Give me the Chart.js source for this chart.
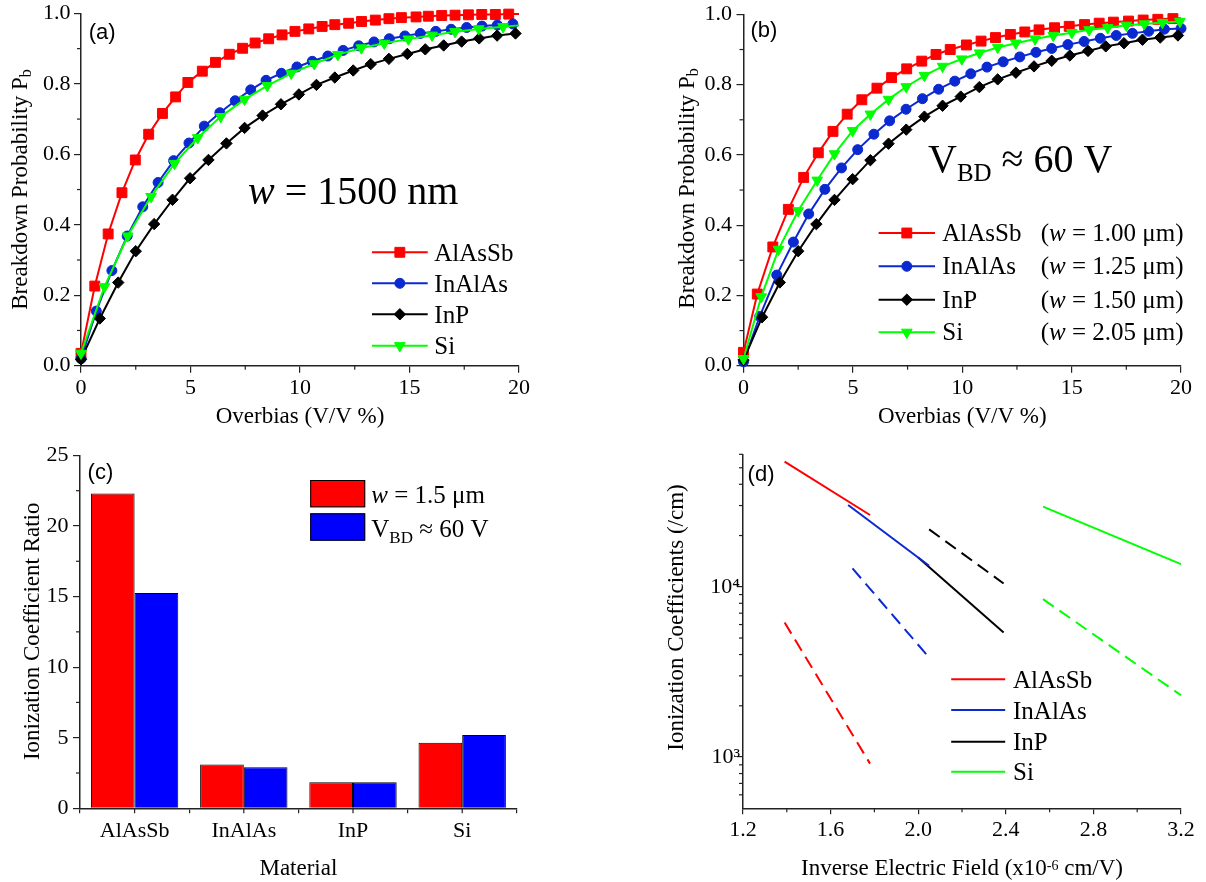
<!DOCTYPE html>
<html><head><meta charset="utf-8">
<script src="https://cdn.jsdelivr.net/npm/chart.js@4.4.1/dist/chart.umd.min.js"></script>
<style>
html,body{margin:0;padding:0;background:#fff;}
#wrap{position:relative;width:1206px;height:882px;overflow:hidden;background:#fff;}
.pane{position:absolute;width:603px;height:441px;}
canvas{display:block;}
</style></head><body>
<div id="wrap">
<div class="pane" style="left:0;top:0"><canvas id="ca" width="603" height="441"></canvas></div>
<div class="pane" style="left:603px;top:0"><canvas id="cb" width="603" height="441"></canvas></div>
<div class="pane" style="left:0;top:441px"><canvas id="cc" width="603" height="441"></canvas></div>
<div class="pane" style="left:603px;top:441px"><canvas id="cd" width="603" height="441"></canvas></div>
</div>
<script>
const SERIF = '"Liberation Serif","Times New Roman",Times,serif';
const SANS = '"Liberation Sans",Arial,Helvetica,sans-serif';

// ---------------- DATA ----------------
// Panel (a): w = 1500 nm
const aAlAsSbX = [0,0.63,1.24,1.87,2.48,3.09,3.72,4.32,4.88,5.54,6.14,6.77,7.38,7.95,8.57,9.18,9.77,10.40,11.01,11.59,12.22,12.81,13.44,14.06,14.63,15.30,15.86,16.47,17.08,17.69,18.30,18.92,19.53,20];
const aAlAsSbY = [0.035,0.226,0.374,0.491,0.584,0.657,0.716,0.763,0.804,0.836,0.861,0.884,0.901,0.916,0.928,0.939,0.949,0.956,0.963,0.968,0.972,0.977,0.981,0.985,0.988,0.990,0.992,0.994,0.995,0.996,0.997,0.997,0.998,0.998];
const aInAlAsX = [0,0.70,1.41,2.11,2.82,3.52,4.23,4.93,5.63,6.34,7.04,7.75,8.45,9.15,9.86,10.56,11.27,11.97,12.68,13.38,14.08,14.79,15.49,16.20,16.90,17.61,18.31,19.01,19.72];
const aInAlAsY = [0.02,0.155,0.27,0.368,0.451,0.52,0.582,0.632,0.68,0.718,0.752,0.783,0.810,0.830,0.848,0.864,0.879,0.895,0.908,0.919,0.928,0.936,0.943,0.949,0.955,0.960,0.964,0.967,0.970];
const aInPX = [0,0.86,1.7,2.5,3.34,4.18,4.98,5.82,6.64,7.47,8.29,9.13,9.95,10.75,11.59,12.43,13.23,14.06,14.9,15.72,16.56,17.38,18.18,19.0,19.84];
const aInPY = [0.018,0.134,0.236,0.325,0.402,0.471,0.532,0.584,0.631,0.675,0.71,0.742,0.770,0.797,0.818,0.838,0.856,0.871,0.885,0.898,0.909,0.92,0.929,0.937,0.943];
const aSiX = [0,1.07,2.13,3.2,4.27,5.33,6.38,7.47,8.51,9.6,10.65,11.73,12.8,13.85,14.95,16.03,17.08,18.16,19.27,20];
const aSiY = [0.035,0.224,0.368,0.48,0.574,0.647,0.707,0.756,0.795,0.830,0.857,0.883,0.902,0.915,0.927,0.938,0.948,0.956,0.962,0.966];

// Panel (b): VBD ~ 60 V
const bAlAsSbX = [0,0.63,1.34,2.05,2.75,3.42,4.09,4.74,5.41,6.1,6.77,7.46,8.15,8.8,9.45,10.19,10.86,11.52,12.2,12.86,13.51,14.22,14.89,15.59,16.26,16.91,17.6,18.27,18.94,19.63,20];
const bAlAsSbY = [0.038,0.204,0.338,0.445,0.536,0.606,0.667,0.716,0.757,0.79,0.82,0.845,0.867,0.886,0.9,0.913,0.924,0.934,0.943,0.95,0.956,0.962,0.966,0.971,0.975,0.978,0.981,0.984,0.986,0.988,0.989];
const bInAlAsX = [0,0.74,1.52,2.28,2.98,3.72,4.48,5.22,5.96,6.68,7.43,8.18,8.92,9.66,10.39,11.13,11.87,12.63,13.37,14.09,14.83,15.57,16.31,17.04,17.78,18.52,19.24,20.0];
const bInAlAsY = [0.011,0.14,0.258,0.352,0.432,0.502,0.563,0.615,0.659,0.697,0.730,0.760,0.787,0.810,0.831,0.850,0.865,0.879,0.892,0.903,0.914,0.923,0.932,0.940,0.946,0.952,0.958,0.960];
const bInPX = [0,0.85,1.66,2.5,3.33,4.16,4.99,5.8,6.63,7.44,8.27,9.1,9.93,10.78,11.62,12.45,13.28,14.09,14.92,15.75,16.56,17.39,18.24,19.05,19.86];
const bInPY = [0.016,0.138,0.237,0.326,0.403,0.472,0.531,0.585,0.632,0.672,0.709,0.74,0.766,0.793,0.815,0.834,0.852,0.868,0.883,0.896,0.909,0.918,0.928,0.934,0.94];
const bSiX = [0,0.81,1.6,2.5,3.37,4.16,4.99,5.8,6.63,7.44,8.27,9.1,9.98,10.79,11.62,12.45,13.33,14.16,15.01,15.8,16.65,17.5,18.32,19.15,19.95];
const bSiY = [0.02,0.196,0.331,0.441,0.528,0.603,0.669,0.716,0.758,0.794,0.826,0.852,0.873,0.89,0.906,0.918,0.93,0.94,0.948,0.956,0.962,0.969,0.973,0.977,0.980];

// Panel (c): ionization coefficient ratio
const cCategories = ['AlAsSb','InAlAs','InP','Si'];
const cW15 = [22.3, 3.1, 1.85, 4.65];
const cVBD60 = [15.25, 2.9, 1.85, 5.2];

// Panel (d): ionization coefficients vs inverse field (solid / dashed)
const dAlAsSbX = [1.39, 1.78];
const dAlAsSbSolid = [54300, 26400];
const dAlAsSbDash = [6170, 915];
const dInAlAsSolidX = [1.68, 2.05];
const dInAlAsSolid = [30200, 13290];
const dInAlAsDashX = [1.70, 2.05];
const dInAlAsDash = [12820, 3840];
const dInPSolidX = [2.00, 2.39];
const dInPSolid = [14880, 5385];
const dInPDashX = [2.05, 2.39];
const dInPDash = [21740, 10460];
const dSiX = [2.57, 3.20];
const dSiSolid = [29550, 13590];
const dSiDash = [8460, 2305];

// Ticks
const abTicksX = [0,5,10,15,20];
const abMinorX = [2.5,7.5,12.5,17.5];
const abTicksY = [0,0.2,0.4,0.6,0.8,1.0];
const abMinorY = [0.1,0.3,0.5,0.7,0.9];
const cTicksY = [0,5,10,15,20,25];
const cMinorY = [2.5,7.5,12.5,17.5,22.5];
const dTicksX = [1.2,1.6,2.0,2.4,2.8,3.2];
const dMinorX = [1.4,1.8,2.2,2.6,3.0];
const dTicksY = [1000,10000];
const dMinorY = [600,700,800,900,2000,3000,4000,5000,6000,7000,8000,9000,20000,30000,40000,50000,60000];

// ---------------- STYLE ----------------
const RED='#ff0000', BLUE='#0a2ad0', BLACK='#000000', GREEN='#00ff00';
const BAR_RED='#ff0000', BAR_BLUE='#0000ff';

function pts(xs, ys){ return xs.map((x,i)=>({x:x, y:ys[i]})); }

function lineDS(label, xs, ys, color, style, r, rot, order, hideLast){
  return { label, data: pts(xs,ys), borderColor: color, backgroundColor: color, borderWidth: 2,
    pointStyle: style, pointRotation: rot||0, pointBorderColor: color, pointBackgroundColor: color,
    pointBorderWidth: 1, pointHoverRadius: 0,
    pointRadius: c => (hideLast && c.dataIndex === xs.length-1) ? 0 : r,
    tension: 0, clip: false, order: order, mkR: r, mkStyle: style, mkRot: rot||0 };
}
function plainDS(label, xs, ys, color, dashed){
  return { label, data: pts(xs,ys), borderColor: color, backgroundColor: color, borderWidth: 2,
    borderDash: dashed ? [13,7] : [], pointRadius: 0, pointHoverRadius: 0, tension: 0, clip: false };
}

function axis(o){
  const a = {
    type: o.type || 'linear',
    afterFit: s => { if (o.horiz) s.height = o.fit; else s.width = o.fit; },
    ticks: { font: {family: SERIF, size: 22, lineHeight: 0.9}, color: '#000',
             padding: o.pad, autoSkip: false, maxRotation: 0, minRotation: 0 },
    grid: { display: true, drawOnChartArea: false, drawTicks: true, tickLength: o.tl,
            color: '#222', lineWidth: 1.2, tickWidth: 1.2, offset: !!o.offset },
    border: { display: true, color: '#222', width: 1.5 }
  };
  if (o.min != null) a.min = o.min;
  if (o.max != null) a.max = o.max;
  if (o.fmt) a.ticks.callback = o.fmt;
  if (o.ticksArr) a.afterBuildTicks = s => { s.ticks = o.ticksArr.map(v => ({value: v})); };
  if (o.offset) a.offset = true;
  return a;
}

function drawRich(ctx, parts, x, y, opt){
  const size = opt.size || 22, fam = opt.family || SERIF;
  const subSize = opt.subSize || size*0.7, supSize = opt.supSize || size*0.65;
  const fontFor = p => (p.i ? 'italic ' : '') + ((p.sub) ? subSize : (p.sup ? supSize : size)) + 'px ' + fam;
  let total = 0;
  parts.forEach(p => { ctx.font = fontFor(p); p._w = ctx.measureText(p.t).width; total += p._w; });
  ctx.save();
  ctx.translate(x, y);
  if (opt.rot) ctx.rotate(opt.rot);
  let cx = opt.align === 'center' ? -total/2 : 0;
  ctx.textBaseline = 'alphabetic'; ctx.textAlign = 'left'; ctx.fillStyle = opt.color || '#000';
  parts.forEach(p => {
    ctx.font = fontFor(p);
    const dy = p.sub ? (opt.subDy != null ? opt.subDy : size*0.25) : (p.sup ? -(opt.supDy != null ? opt.supDy : size*0.38) : 0);
    ctx.fillText(p.t, cx, dy);
    cx += p._w;
  });
  ctx.restore();
}

const decor = {
  id: 'decor',
  afterDraw(chart, args, o){
    if (!o || !o.on) return;
    const ctx = chart.ctx, ca = chart.chartArea, ox = o.ox, oy = o.oy;
    const xs = chart.scales.x, ys = chart.scales.y;
    ctx.save();
    ctx.strokeStyle = '#222'; ctx.lineWidth = 1.2; ctx.setLineDash([]);
    (o.minorX || []).forEach(v => {
      const px = xs.getPixelForValue(v);
      ctx.beginPath(); ctx.moveTo(px, ca.bottom); ctx.lineTo(px, ca.bottom + o.minorLen); ctx.stroke();
    });
    if (o.catCenters) {
      for (let i = 0; i < xs.ticks.length; i++) {
        const px = xs.getPixelForTick(i);
        ctx.beginPath(); ctx.moveTo(px, ca.bottom); ctx.lineTo(px, ca.bottom + o.catLen); ctx.stroke();
      }
    }
    (o.minorY || []).forEach(v => {
      const py = ys.getPixelForValue(v);
      ctx.beginPath(); ctx.moveTo(ca.left, py); ctx.lineTo(ca.left - o.minorLen, py); ctx.stroke();
    });
    if (o.legend) {
      const L = o.legend;
      L.items.forEach((it, k) => {
        const y = L.rows[k] - oy;
        const ds = chart.data.datasets[it.ds];
        ctx.strokeStyle = ds.borderColor; ctx.lineWidth = ds.borderWidth; ctx.setLineDash([]);
        ctx.beginPath(); ctx.moveTo(L.x1 - ox, y); ctx.lineTo(L.x2 - ox, y); ctx.stroke();
        if (L.markers) {
          ctx.fillStyle = ds.pointBackgroundColor; ctx.strokeStyle = ds.pointBorderColor; ctx.lineWidth = 1;
          Chart.helpers.drawPoint(ctx, {pointStyle: ds.mkStyle, rotation: ds.mkRot, radius: ds.mkR, borderWidth: 1}, (L.x1 + L.x2)/2 - ox, y);
        }
        drawRich(ctx, it.parts, L.tx - ox, y + L.dy, {size: L.size});
        if (it.parts2) drawRich(ctx, it.parts2, L.tx2 - ox, y + L.dy, {size: L.size});
      });
    }
    (o.boxes || []).forEach(b => {
      const ds = chart.data.datasets[b.ds];
      ctx.fillStyle = ds.backgroundColor; ctx.fillRect(b.x - ox, b.y - oy, b.w, b.h);
      ctx.strokeStyle = '#000'; ctx.lineWidth = 1; ctx.strokeRect(b.x - ox + 0.5, b.y - oy + 0.5, b.w - 1, b.h - 1);
      drawRich(ctx, b.parts, b.tx - ox, b.ty - oy, b);
    });
    (o.texts || []).forEach(t => drawRich(ctx, t.parts, t.x - ox, t.y - oy, t));
    ctx.restore();
  }
};
Chart.register(decor);

const common = { responsive: false, animation: false, devicePixelRatio: 1, events: [] };
const noPlug = { legend: {display: false}, tooltip: {enabled: false} };
const fmt1 = v => Number(v).toFixed(1);
const fmt0 = v => String(Math.round(v));
const fmtCat = function(v, i){ return this.getLabelForValue(v); };

// ---------------- (a) ----------------
new Chart(document.getElementById('ca'), {
  type: 'line',
  data: { datasets: [
    lineDS('AlAsSb', aAlAsSbX, aAlAsSbY, RED, 'rect', 7, 0, 3, true),
    lineDS('InAlAs', aInAlAsX, aInAlAsY, BLUE, 'circle', 5, 0, 2, false),
    lineDS('InP', aInPX, aInPY, BLACK, 'rectRot', 5.7, 0, 1, false),
    lineDS('Si', aSiX, aSiY, GREEN, 'triangle', 6.2, 180, 0, true)
  ]},
  options: Object.assign({}, common, {
    layout: { padding: {left: 0, top: 13.3, right: 84, bottom: 0} },
    scales: {
      x: axis({min: 0, max: 20, ticksArr: abTicksX, fmt: fmt0, tl: 7, pad: 5.4, horiz: true, fit: 75.3}),
      y: axis({min: 0, max: 1, ticksArr: abTicksY, fmt: fmt1, tl: 7, pad: 3.5, fit: 81})
    },
    plugins: Object.assign({}, noPlug, { decor: {
      on: true, ox: 0, oy: 0, minorX: abMinorX, minorY: abMinorY, minorLen: 4,
      legend: { x1: 372, x2: 427.7, tx: 434.3, rows: [252.3, 283.3, 314.3, 345.7], dy: 8.5, size: 25, markers: true,
        items: [ {ds: 0, parts: [{t: 'AlAsSb'}]}, {ds: 1, parts: [{t: 'InAlAs'}]}, {ds: 2, parts: [{t: 'InP'}]}, {ds: 3, parts: [{t: 'Si'}]} ] },
      texts: [
        {parts: [{t: '(a)'}], x: 88.7, y: 38.5, size: 22, family: SANS},
        {parts: [{t: 'w', i: true}, {t: ' = 1500 nm'}], x: 248, y: 203.5, size: 40},
        {parts: [{t: 'Breakdown Probability P'}, {t: 'b', sub: true}], x: 26.5, y: 189.5, size: 23, rot: -Math.PI/2, align: 'center', subSize: 16, subDy: 4},
        {parts: [{t: 'Overbias (V/V %)'}], x: 300, y: 423, size: 23, align: 'center'}
      ]
    }})
  })
});

// ---------------- (b) ----------------
new Chart(document.getElementById('cb'), {
  type: 'line',
  data: { datasets: [
    lineDS('AlAsSb', bAlAsSbX, bAlAsSbY, RED, 'rect', 7, 0, 3, true),
    lineDS('InAlAs', bInAlAsX, bInAlAsY, BLUE, 'circle', 5, 0, 2, false),
    lineDS('InP', bInPX, bInPY, BLACK, 'rectRot', 5.7, 0, 1, false),
    lineDS('Si', bSiX, bSiY, GREEN, 'triangle', 6.2, 180, 0, false)
  ]},
  options: Object.assign({}, common, {
    layout: { padding: {left: 60, top: 11, right: 25, bottom: 0} },
    scales: {
      x: axis({min: 0, max: 20, ticksArr: abTicksX, fmt: fmt0, tl: 7, pad: 5.4, horiz: true, fit: 75.3}),
      y: axis({min: 0, max: 1, ticksArr: abTicksY, fmt: fmt1, tl: 7, pad: 4.5, fit: 80.5})
    },
    plugins: Object.assign({}, noPlug, { decor: {
      on: true, ox: 603, oy: 0, minorX: abMinorX, minorY: abMinorY, minorLen: 4,
      legend: { x1: 878.6, x2: 935, tx: 942.3, tx2: 1040.7, rows: [233, 266.3, 299.7, 332.3], dy: 8, size: 25, markers: true,
        items: [
          {ds: 0, parts: [{t: 'AlAsSb'}], parts2: [{t: '('}, {t: 'w', i: true}, {t: ' = 1.00 μm)'}]},
          {ds: 1, parts: [{t: 'InAlAs'}], parts2: [{t: '('}, {t: 'w', i: true}, {t: ' = 1.25 μm)'}]},
          {ds: 2, parts: [{t: 'InP'}], parts2: [{t: '('}, {t: 'w', i: true}, {t: ' = 1.50 μm)'}]},
          {ds: 3, parts: [{t: 'Si'}], parts2: [{t: '('}, {t: 'w', i: true}, {t: ' = 2.05 μm)'}]}
        ] },
      texts: [
        {parts: [{t: '(b)'}], x: 750.5, y: 37, size: 22, family: SANS},
        {parts: [{t: 'V'}, {t: 'BD', sub: true}, {t: ' ≈ 60 V'}], x: 928, y: 171.5, size: 40, subSize: 25, subDy: 9.5},
        {parts: [{t: 'Breakdown Probability P'}, {t: 'b', sub: true}], x: 693.5, y: 188.4, size: 23, rot: -Math.PI/2, align: 'center', subSize: 16, subDy: 4},
        {parts: [{t: 'Overbias (V/V %)'}], x: 962.3, y: 423, size: 23, align: 'center'}
      ]
    }})
  })
});

// ---------------- (c) ----------------
new Chart(document.getElementById('cc'), {
  type: 'bar',
  data: { labels: cCategories, datasets: [
    { label: 'w = 1.5 μm', data: cW15, backgroundColor: BAR_RED, borderColor: '#000', borderWidth: 1, borderSkipped: 'start', categoryPercentage: 0.8, barPercentage: 1.0 },
    { label: 'VBD ≈ 60 V', data: cVBD60, backgroundColor: BAR_BLUE, borderColor: '#000', borderWidth: 1, borderSkipped: 'start', categoryPercentage: 0.8, barPercentage: 1.0 }
  ]},
  options: Object.assign({}, common, {
    layout: { padding: {left: 0, top: 13.3, right: 86.2, bottom: 0} },
    scales: {
      x: axis({type: 'category', fmt: fmtCat, tl: 5, pad: 7.6, horiz: true, fit: 73.7, offset: true}),
      y: axis({min: 0, max: 25, ticksArr: cTicksY, fmt: fmt0, tl: 7, pad: 4.5, fit: 80})
    },
    plugins: Object.assign({}, noPlug, { decor: {
      on: true, ox: 0, oy: 441, minorY: cMinorY, minorLen: 4, catCenters: true, catLen: 5,
      boxes: [
        {ds: 0, x: 310.2, y: 480, w: 55, h: 27.3, tx: 371.3, ty: 503, size: 25, parts: [{t: 'w', i: true}, {t: ' = 1.5 μm'}]},
        {ds: 1, x: 310.2, y: 513.3, w: 55, h: 27.4, tx: 371.3, ty: 536.5, size: 25, subSize: 17, subDy: 6, parts: [{t: 'V'}, {t: 'BD', sub: true}, {t: ' ≈ 60 V'}]}
      ],
      texts: [
        {parts: [{t: '(c)'}], x: 87.6, y: 479, size: 22, family: SANS},
        {parts: [{t: 'Ionization Coefficient Ratio'}], x: 39, y: 631.3, size: 23, rot: -Math.PI/2, align: 'center'},
        {parts: [{t: 'Material'}], x: 298.4, y: 874.5, size: 23, align: 'center'}
      ]
    }})
  })
});

// ---------------- (d) ----------------
const supLabel = v => v === 1000 ? '10³' : (v === 10000 ? '10⁴' : '');
new Chart(document.getElementById('cd'), {
  type: 'line',
  data: { datasets: [
    plainDS('AlAsSb', dAlAsSbX, dAlAsSbSolid, RED, false),
    plainDS('AlAsSb dashed', dAlAsSbX, dAlAsSbDash, RED, true),
    plainDS('InAlAs', dInAlAsSolidX, dInAlAsSolid, BLUE, false),
    plainDS('InAlAs dashed', dInAlAsDashX, dInAlAsDash, BLUE, true),
    plainDS('InP', dInPSolidX, dInPSolid, BLACK, false),
    plainDS('InP dashed', dInPDashX, dInPDash, BLACK, true),
    plainDS('Si', dSiX, dSiSolid, GREEN, false),
    plainDS('Si dashed', dSiX, dSiDash, GREEN, true)
  ]},
  options: Object.assign({}, common, {
    layout: { padding: {left: 60, top: 13.3, right: 25, bottom: 0} },
    scales: {
      x: axis({min: 1.2, max: 3.2, ticksArr: dTicksX, fmt: fmt1, tl: 6, pad: 5.8, horiz: true, fit: 73.7}),
      y: axis({type: 'logarithmic', min: 500, max: 60000, ticksArr: dTicksY, fmt: supLabel, tl: 6, pad: -3, fit: 80})
    },
    plugins: Object.assign({}, noPlug, { decor: {
      on: true, ox: 603, oy: 441, minorX: dMinorX, minorY: dMinorY, minorLen: 4,
      legend: { x1: 951.2, x2: 1005.2, tx: 1013, rows: [679.3, 710, 741.7, 771.7], dy: 8.5, size: 25, markers: false,
        items: [ {ds: 0, parts: [{t: 'AlAsSb'}]}, {ds: 2, parts: [{t: 'InAlAs'}]}, {ds: 4, parts: [{t: 'InP'}]}, {ds: 6, parts: [{t: 'Si'}]} ] },
      texts: [
        {parts: [{t: '(d)'}], x: 747.6, y: 480.6, size: 22, family: SANS},
        {parts: [{t: 'Ionization Coefficients (/cm)'}], x: 682.5, y: 617.5, size: 23, rot: -Math.PI/2, align: 'center'},
        {parts: [{t: 'Inverse Electric Field (x10'}, {t: '-6', sup: true}, {t: ' cm/V)'}], x: 962, y: 875, size: 23, align: 'center', supSize: 14, supDy: 5}
      ]
    }})
  })
});
</script>
</body></html>
